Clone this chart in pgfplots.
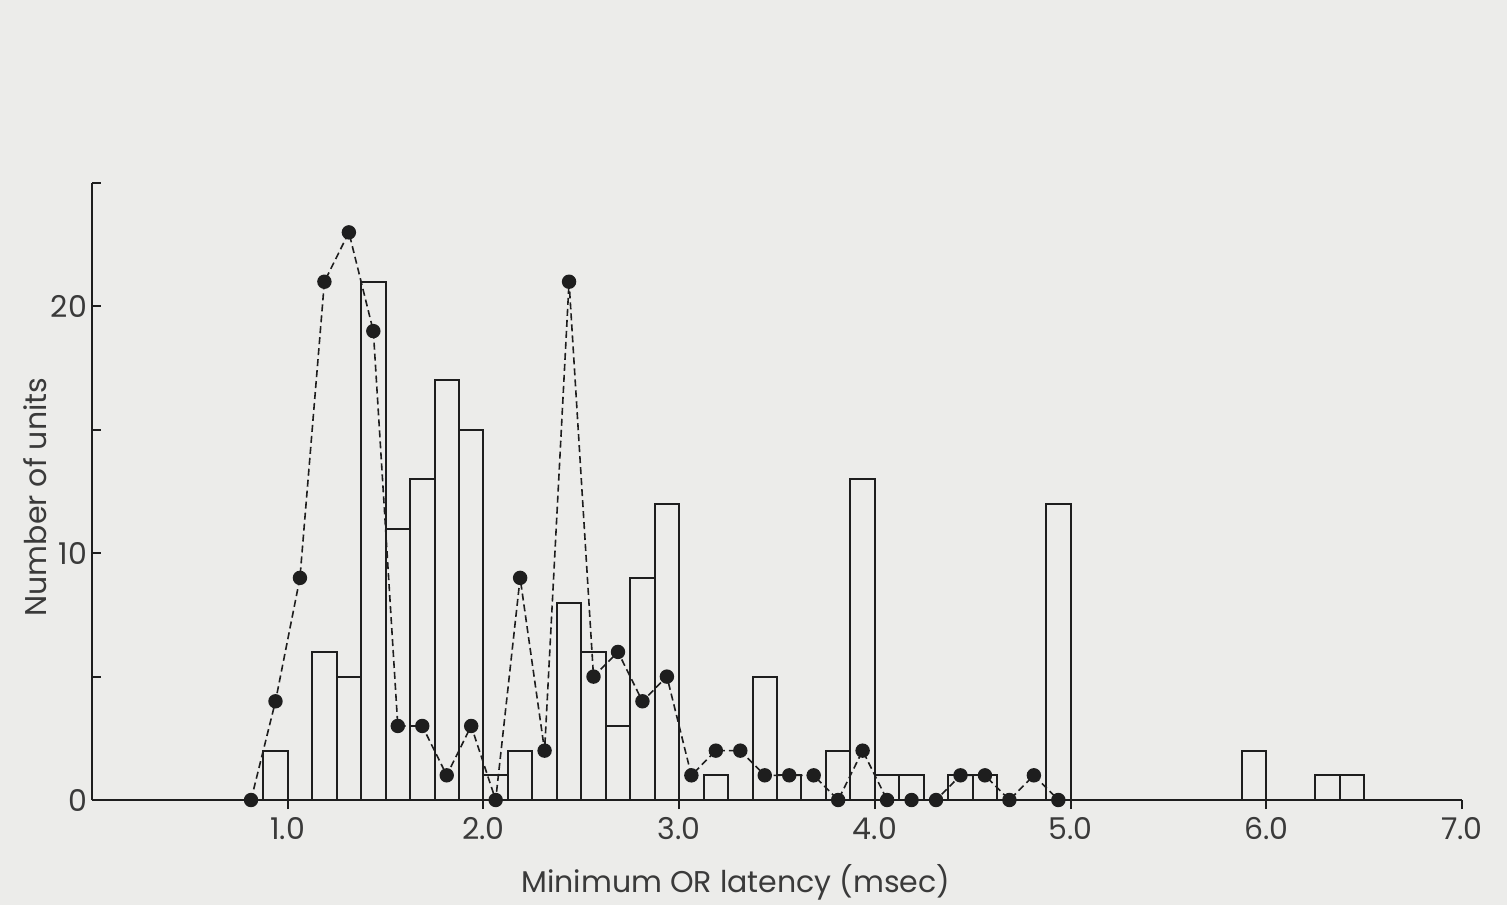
\documentclass[border=0pt]{standalone}
\usepackage{pgfplots}
\pgfplotsset{compat=1.18}
\usepackage{fontspec}
\setmainfont{Poppins}
\usetikzlibrary{backgrounds}
\definecolor{bg}{HTML}{ECECEA}
\definecolor{ink}{HTML}{1E1E1E}
\definecolor{txt}{HTML}{3A3A3A}

\pgfplotstableread{
x y
0.9375 2
1.1875 6
1.3125 5
1.4375 21
1.5625 11
1.6875 13
1.8125 17
1.9375 15
2.0625 1
2.1875 2
2.4375 8
2.5625 6
2.6875 3
2.8125 9
2.9375 12
3.1875 1
3.4375 5
3.5625 1
3.8125 2
3.9375 13
4.0625 1
4.1875 1
4.4375 1
4.5625 1
4.9375 12
5.9375 2
6.3125 1
6.4375 1
}\bars

\pgfplotstableread{
x y
0.8125 0
0.9375 4
1.0625 9
1.1875 21
1.3125 23
1.4375 19
1.5625 3
1.6875 3
1.8125 1
1.9375 3
2.0625 0
2.1875 9
2.3125 2
2.4375 21
2.5625 5
2.6875 6
2.8125 4
2.9375 5
3.0625 1
3.1875 2
3.3125 2
3.4375 1
3.5625 1
3.6875 1
3.8125 0
3.9375 2
4.0625 0
4.1875 0
4.3125 0
4.4375 1
4.5625 1
4.6875 0
4.8125 1
4.9375 0
}\dots

\begin{document}
\begin{tikzpicture}[x=1pt,y=1pt]
\begin{axis}[
  at={(0,0)}, anchor=south west, scale only axis,
  width=685pt, height=308.5pt,
  xmin=0, xmax=7, ymin=0, ymax=25,
  axis x line=bottom, axis y line=left,
  axis line style={-, ink, line width=1pt},
  xtick={1,2,3,4,5,6,7},
  xticklabels={1.0,2.0,3.0,4.0,5.0,6.0,7.0},
  ytick={0,5,10,15,20,25},
  yticklabels={0,,10,,20,},
  /pgf/number format/assume math mode=true,
  tick align=inside, major tick length=4.5pt,
  tick style={ink, line width=1pt},
  x tick style={yshift=-4.5pt},
  every tick label/.append style={font=\fontsize{15}{18}\selectfont, text=txt},
  xticklabel style={yshift=-5pt},
  yticklabel style={xshift=1pt},
  xlabel={Minimum OR latency (msec)},
  ylabel={Number of units},
  every axis x label/.style={at={(axis description cs:0.470,-0.133)}, anchor=center, font=\fontsize{15}{18}\selectfont, text=txt},
  every axis y label/.style={at={(axis description cs:-0.0416,0.491)}, rotate=90, anchor=center, font=\fontsize{15}{18}\selectfont, text=txt},
  clip=false,
]
\addplot[ybar, bar width=0.125, draw=ink, line width=1pt, fill=none] table[x=x,y=y] {\bars};
\addplot[ink, line width=0.8pt, dash pattern=on 3.5pt off 2pt, mark=*, mark size=3.2pt, mark options={solid, fill=ink, draw=ink}] table[x=x,y=y] {\dots};
\end{axis}
\begin{scope}[on background layer]
\fill[bg] (-46,-52.5) rectangle (707.5,400);
\end{scope}
\pgfresetboundingbox
\path (-46,-52.5) rectangle (707.5,400);
\end{tikzpicture}
\end{document}
